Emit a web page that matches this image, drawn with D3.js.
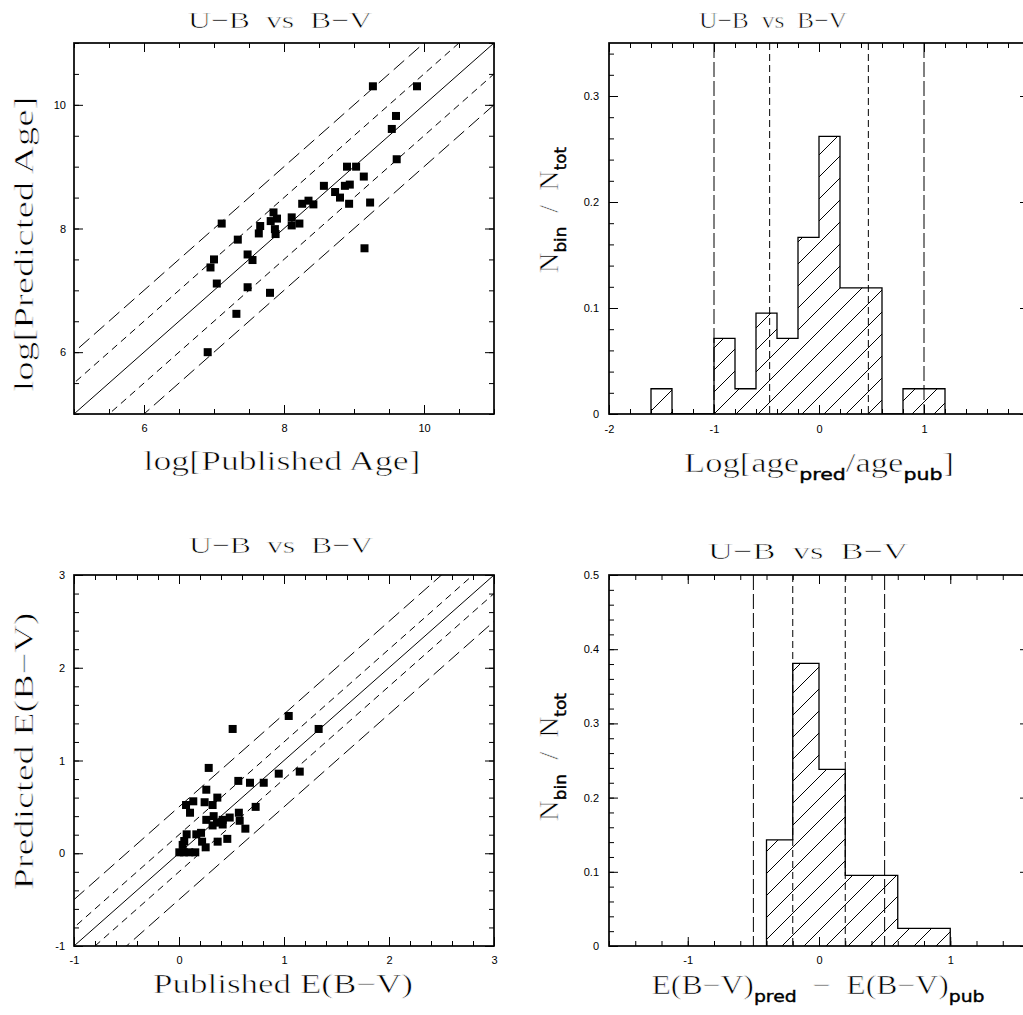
<!DOCTYPE html>
<html>
<head>
<meta charset="utf-8">
<script src="https://cdn.jsdelivr.net/npm/d3@7"></script>
<style>
  body { margin: 0; background: #fff; }
  svg { display: block; }
  text.lbl { white-space: pre; }
</style>
</head>
<body>
<svg id="fig" width="1023" height="1015"></svg>
<script>
// ---------- data ----------
// log ages (published vs predicted)
const agePub  = [9.27, 9.90, 9.60, 9.54, 9.61, 8.90, 9.03, 9.14, 8.57, 8.87,
                 8.94, 8.73, 8.80, 8.93, 9.23, 8.26, 8.35, 8.42, 7.85, 7.81,
                 7.90, 8.11, 8.11, 8.22, 7.66, 7.64, 7.87, 7.88, 7.11, 7.34,
                 7.48, 7.55, 7.00, 6.95, 7.04, 7.48, 7.80, 9.15, 7.32, 6.91];
const agePred = [10.30, 10.30, 9.82, 9.61, 9.12, 9.00, 9.00, 8.84, 8.69, 8.69,
                 8.71, 8.59, 8.50, 8.40, 8.42, 8.40, 8.45, 8.39, 8.26, 8.12,
                 8.16, 8.18, 8.05, 8.08, 8.04, 7.92, 7.99, 7.91, 8.08, 7.82,
                 7.58, 7.49, 7.50, 7.37, 7.11, 7.05, 6.96, 7.68, 6.62, 6.00];

// reddening E(B-V) (published vs predicted)
const ebvPub  = [1.045, 0.511, 1.33, 0.283, 0.95, 1.15, 0.565, 0.676, 0.807, 0.26,
                 0.365, 0.136, 0.067, 0.244, 0.32, 0.105, 0.73, 0.57, 0.26, 0.33,
                 0.483, 0.416, 0.578, 0.362, 0.32, 0.416, 0.632, 0.073, 0.165, 0.21,
                 0.05, 0.22, 0.46, 0.368, 0.254, 0.003, 0.047, 0.098, 0.155, 0.035];
const ebvPred = [1.48, 1.34, 1.34, 0.92, 0.858, 0.88, 0.78, 0.76, 0.76, 0.685,
                 0.60, 0.56, 0.52, 0.55, 0.52, 0.437, 0.50, 0.437, 0.36, 0.40,
                 0.385, 0.36, 0.35, 0.33, 0.30, 0.31, 0.265, 0.204, 0.204, 0.22,
                 0.132, 0.125, 0.155, 0.125, 0.064, 0.01, 0.01, 0.01, 0.01, 0.09];

// histogram of log(age_pred/age_pub): lower bin edges and N_bin/N_tot
const ageBinWidth = 0.2;
const ageBinLo   = [-1.6, -1.4, -1.2, -1.0, -0.8, -0.6, -0.4, -0.2, 0.0, 0.2, 0.4, 0.6, 0.8, 1.0];
const ageBinFrac = [0.0238, 0, 0, 0.0714, 0.0238, 0.0952, 0.0714, 0.1667, 0.2619, 0.1190, 0.1190, 0, 0.0238, 0.0238];
const ageInner = [-0.47, 0.47];   // short-dashed limits
const ageOuter = [-1, 1];         // long-dashed limits

// histogram of E(B-V)_pred - E(B-V)_pub
const ebvBinWidth = 0.2;
const ebvBinLo   = [-0.4, -0.2, 0.0, 0.2, 0.4, 0.6, 0.8];
const ebvBinFrac = [0.1429, 0.3810, 0.2381, 0.0952, 0.0952, 0.0238, 0.0238];
const ebvInner = [-0.2, 0.2];
const ebvOuter = [-0.5, 0.5];

// one-to-one lines and offsets
const ageOffsets = [-1, -0.5, 0, 0.5, 1];
const ebvOffsets = [-0.5, -0.2, 0, 0.2, 0.5];

// tick labels
const ageTicks      = ["6", "8", "10"];
const ebvTicks      = ["-1", "0", "1", "2", "3"];
const ageResidTicks = ["-2", "-1", "0", "1"];
const ageFracTicks  = ["0", "0.1", "0.2", "0.3"];
const ebvResidTicks = ["-1", "0", "1"];
const ebvFracTicks  = ["0", "0.1", "0.2", "0.3", "0.4", "0.5"];

// ---------- drawing ----------
const svg = d3.select("#fig");
const defs = svg.append("defs");

const SERIF = "'Liberation Serif', 'Times New Roman', serif";
const SUBF  = "'DejaVu Sans', sans-serif";
const TICKF = "'Liberation Sans', Arial, sans-serif";

const LONG_DIAG = "14,6", SHORT_DIAG = "7,5";
const LONG_VERT = "15,4", SHORT_VERT = "7,4";

// hatch fill for histograms ("/" lines)
function hatch(id, phase) {
  const p = defs.append("pattern")
    .attr("id", id)
    .attr("patternUnits", "userSpaceOnUse")
    .attr("width", 22).attr("height", 22)
    .attr("patternTransform", `translate(${phase},0)`);
  p.append("path")
    .attr("d", "M-11,11 L11,-11 M0,22 L22,0 M11,33 L33,11")
    .attr("stroke", "#000").attr("stroke-width", 1).attr("fill", "none");
}
hatch("hatchA", 6);
hatch("hatchB", 12);

function frameAxes(g, x, y, box, cfg) {
  const minor = (s, step) => {
    const d = s.domain();
    return d3.range(Math.ceil(d[0] / step - 1e-9) * step, d[1] + 1e-9, step);
  };
  const noLab = () => "";
  // minor ticks on all four sides
  g.append("g").attr("transform", `translate(0,${box.bottom})`)
    .call(d3.axisBottom(x).tickValues(minor(x, cfg.xMinor)).tickSizeInner(-5).tickSizeOuter(0).tickFormat(noLab));
  g.append("g").attr("transform", `translate(0,${box.top})`)
    .call(d3.axisTop(x).tickValues(minor(x, cfg.xMinor)).tickSizeInner(-5).tickSizeOuter(0).tickFormat(noLab));
  g.append("g").attr("transform", `translate(${box.left},0)`)
    .call(d3.axisLeft(y).tickValues(minor(y, cfg.yMinor)).tickSizeInner(-5).tickSizeOuter(0).tickFormat(noLab));
  g.append("g").attr("transform", `translate(${box.right},0)`)
    .call(d3.axisRight(y).tickValues(minor(y, cfg.yMinor)).tickSizeInner(-5).tickSizeOuter(0).tickFormat(noLab));
  // major ticks (labelled on bottom and left)
  const xv = cfg.xMajor, yv = cfg.yLabels.map(Number);
  const xLab = new Map(cfg.xLabels.map(s => [Number(s), s]));
  g.append("g").attr("class", "lab").attr("transform", `translate(0,${box.bottom})`)
    .call(d3.axisBottom(x).tickValues(xv).tickSizeInner(-9).tickSizeOuter(0).tickPadding(cfg.xPad)
      .tickFormat(d => xLab.get(d) || ""));
  g.append("g").attr("transform", `translate(0,${box.top})`)
    .call(d3.axisTop(x).tickValues(xv).tickSizeInner(-9).tickSizeOuter(0).tickFormat(noLab));
  g.append("g").attr("class", "lab").attr("transform", `translate(${box.left},0)`)
    .call(d3.axisLeft(y).tickValues(yv).tickSizeInner(-9).tickSizeOuter(0).tickPadding(cfg.yPad)
      .tickFormat((d, i) => cfg.yLabels[i]));
  g.append("g").attr("transform", `translate(${box.right},0)`)
    .call(d3.axisRight(y).tickValues(yv).tickSizeInner(-9).tickSizeOuter(0).tickFormat(noLab));

  g.selectAll(".domain").remove();
  g.selectAll(".tick line").attr("stroke", "#000").attr("stroke-width", 1);
  g.selectAll(".lab text").attr("font-family", TICKF).attr("font-size", 11).attr("fill", "#000");
  g.selectAll(".lab .tick").filter(function () { return d3.select(this).select("text").text() === ""; })
    .select("text").remove();

  g.append("rect")
    .attr("x", box.left).attr("y", box.top)
    .attr("width", box.right - box.left).attr("height", box.bottom - box.top)
    .attr("fill", "none").attr("stroke", "#000").attr("stroke-width", 1.7);
}

// serif label; parts are [text, isSubscript]
function label(parts, opt) {
  const t = svg.append("text")
    .attr("class", "lbl")
    .attr("font-family", SERIF)
    .attr("font-size", opt.size)
    .attr("fill", "#000")
    .attr("stroke", "#fff")            // thin the stretched strokes a little
    .attr("stroke-width", 0.6)
    .attr("text-anchor", "middle")
    .attr("textLength", opt.len)
    .attr("lengthAdjust", "spacingAndGlyphs");
  if (opt.rotate) t.attr("transform", `translate(${opt.x},${opt.y}) rotate(-90)`);
  else t.attr("x", opt.x).attr("y", opt.y);
  let shifted = false;
  parts.forEach(([s, sub]) => {
    const ts = t.append("tspan").text(s);
    if (sub) {
      ts.attr("font-family", SUBF).attr("font-size", opt.subSize)
        .attr("stroke", "#000").attr("stroke-width", 0.4);
      if (!shifted) { ts.attr("dy", opt.subDy); shifted = true; }
    } else if (shifted) {
      ts.attr("dy", -opt.subDy); shifted = false;
    }
  });
  return t;
}

function scatterPanel(box, xs, ys, offsets, cfg, clipId) {
  const g = svg.append("g");
  const x = d3.scaleLinear().domain(cfg.domain).range([box.left, box.right]);
  const y = d3.scaleLinear().domain(cfg.domain).range([box.bottom, box.top]);

  defs.append("clipPath").attr("id", clipId)
    .append("rect").attr("x", box.left).attr("y", box.top)
    .attr("width", box.right - box.left).attr("height", box.bottom - box.top);

  const lg = g.append("g").attr("clip-path", `url(#${clipId})`);
  const line = d3.line().x(d => x(d[0])).y(d => y(d[1]));
  const big = d3.max(offsets);
  offsets.forEach(o => {
    const d0 = cfg.domain[0] - 1, d1 = cfg.domain[1] + 1;
    lg.append("path")
      .attr("d", line([[d0, d0 + o], [d1, d1 + o]]))
      .attr("fill", "none").attr("stroke", "#000").attr("stroke-width", 1)
      .attr("stroke-dasharray", o === 0 ? null : (Math.abs(o) === big ? LONG_DIAG : SHORT_DIAG));
  });

  const s = 8;
  lg.selectAll("rect.pt").data(xs.map((v, i) => [v, ys[i]])).join("rect")
    .attr("class", "pt")
    .attr("x", d => x(d[0]) - s / 2).attr("y", d => y(d[1]) - s / 2)
    .attr("width", s).attr("height", s).attr("fill", "#000");

  frameAxes(g, x, y, box, cfg);
}

function histPanel(box, lo, frac, width, inner, outer, cfg, pat, clipId) {
  const g = svg.append("g");
  const x = d3.scaleLinear().domain(cfg.xDomain).range([box.left, box.right]);
  const y = d3.scaleLinear().domain(cfg.yDomain).range([box.bottom, box.top]);

  defs.append("clipPath").attr("id", clipId)
    .append("rect").attr("x", box.left).attr("y", box.top)
    .attr("width", box.right - box.left).attr("height", box.bottom - box.top);
  const cg = g.append("g").attr("clip-path", `url(#${clipId})`);

  // step outline: start at baseline, one point per bin, close at last bin edge
  const pts = [[lo[0], 0]].concat(lo.map((v, i) => [v, frac[i]]));
  pts.push([lo[lo.length - 1] + width, 0]);

  const area = d3.area().curve(d3.curveStepAfter)
    .x(d => x(d[0])).y0(y(0)).y1(d => y(d[1]));
  cg.append("path").attr("d", area(pts)).attr("fill", `url(#${pat})`).attr("stroke", "none");

  const line = d3.line().curve(d3.curveStepAfter).x(d => x(d[0])).y(d => y(d[1]));
  cg.append("path").attr("d", line(pts))
    .attr("fill", "none").attr("stroke", "#000").attr("stroke-width", 1.3);

  const vline = (v, dash) => cg.append("line")
    .attr("x1", x(v)).attr("x2", x(v)).attr("y1", box.top).attr("y2", box.bottom)
    .attr("stroke", "#000").attr("stroke-width", 1).attr("stroke-dasharray", dash);
  outer.forEach(v => vline(v, LONG_VERT));
  inner.forEach(v => vline(v, SHORT_VERT));

  frameAxes(g, x, y, box, cfg);
}

// ---------- panels ----------
const TL = { left: 74,  right: 494,  top: 43,  bottom: 414 };
const TR = { left: 609, right: 1029, top: 43,  bottom: 414 };
const BL = { left: 74,  right: 494,  top: 575, bottom: 946 };
const BR = { left: 609, right: 1029, top: 575, bottom: 946 };

scatterPanel(TL, agePub, agePred, ageOffsets,
  { domain: [5, 11], xMinor: 0.5, yMinor: 0.5, xMajor: ageTicks.map(Number),
    xLabels: ageTicks, yLabels: ageTicks, xPad: 10, yPad: 8 }, "clipTL");

histPanel(TR, ageBinLo, ageBinFrac, ageBinWidth, ageInner, ageOuter,
  { xDomain: [-2, 2], yDomain: [0, 0.35], xMinor: 0.2, yMinor: 0.02, xMajor: [-2, -1, 0, 1, 2],
    xLabels: ageResidTicks, yLabels: ageFracTicks, xPad: 11, yPad: 10 }, "hatchA", "clipTR");

scatterPanel(BL, ebvPub, ebvPred, ebvOffsets,
  { domain: [-1, 3], xMinor: 0.2, yMinor: 0.2, xMajor: ebvTicks.map(Number),
    xLabels: ebvTicks, yLabels: ebvTicks, xPad: 10, yPad: 9 }, "clipBL");

histPanel(BR, ebvBinLo, ebvBinFrac, ebvBinWidth, ebvInner, ebvOuter,
  { xDomain: [-1.6, 1.6], yDomain: [0, 0.5], xMinor: 0.2, yMinor: 0.02, xMajor: ebvResidTicks.map(Number),
    xLabels: ebvResidTicks, yLabels: ebvFracTicks, xPad: 10, yPad: 10 }, "hatchB", "clipBR");

// ---------- titles and axis labels ----------
const title = "U−B  vs  B−V";
label([[title]], { x: 280, y: 28,  size: 23, len: 184 });
label([[title]], { x: 773, y: 28,  size: 23, len: 148 });
label([[title]], { x: 281, y: 553, size: 23, len: 184 });
label([[title]], { x: 808, y: 559, size: 23, len: 200 });

label([["log[Published Age]"]], { x: 282, y: 470, size: 27, len: 277 });
label([["log[Predicted Age]"]], { x: 33, y: 244, size: 27, len: 295, rotate: true });
label([["Log[age"], ["pred", 1], ["/age"], ["pub", 1], ["]"]],
  { x: 819, y: 472, size: 27, len: 270, subDy: 8, subSize: 16 });
label([["N"], ["bin", 1], ["  /  N"], ["tot", 1]],
  { x: 558, y: 210, size: 27, len: 126, subDy: 8, subSize: 16, rotate: true });

label([["Published E(B−V)"]], { x: 283, y: 993, size: 27, len: 260 });
label([["Predicted E(B−V)"]], { x: 33, y: 751, size: 27, len: 277, rotate: true });
label([["E(B−V)"], ["pred", 1], ["  −  E(B−V)"], ["pub", 1]],
  { x: 818, y: 994, size: 27, len: 333, subDy: 8, subSize: 16 });
label([["N"], ["bin", 1], ["  /  N"], ["tot", 1]],
  { x: 558, y: 757, size: 27, len: 128, subDy: 8, subSize: 16, rotate: true });
</script>
</body>
</html>
